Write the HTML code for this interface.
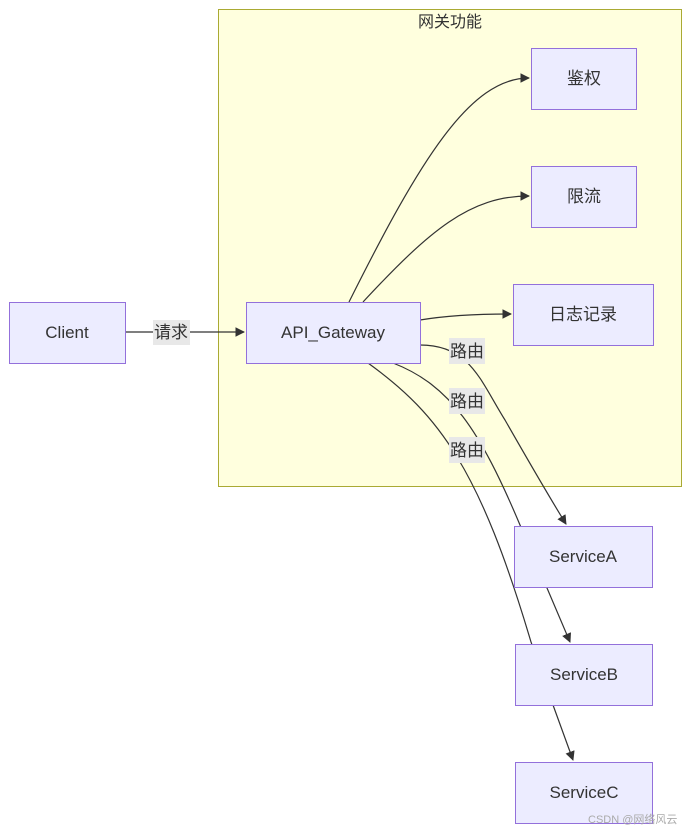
<!DOCTYPE html>
<html><head><meta charset="utf-8"><style>
html,body{margin:0;padding:0;background:#fff;}
svg{display:block;font-family:"Liberation Sans","Noto Sans CJK SC",sans-serif;}
</style></head><body>
<svg width="692" height="833" viewBox="0 0 692 833" xmlns="http://www.w3.org/2000/svg">
<defs><marker id="a" viewBox="0 0 10 10" refX="9" refY="5" markerWidth="8" markerHeight="8" orient="auto"><path d="M0,0L10,5L0,10z" fill="#333"/></marker></defs>
<rect x="218.5" y="9.5" width="463" height="477" fill="#ffffde" stroke="#aaaa33"/>
<text x="450" y="27" font-size="16" fill="#333" text-anchor="middle">网关功能</text>
<g fill="none" stroke="#333" stroke-width="1.2">
<path d="M125,332 L244,332" marker-end="url(#a)"/>
<path d="M349,302 C420,160 470,78 529,78" marker-end="url(#a)"/>
<path d="M363,302 C430,230 470,196 529,196" marker-end="url(#a)"/>
<path d="M420,320 C450,315 480,314 511,314" marker-end="url(#a)"/>
<path d="M420,345 C470,345 480,380 505,420 C525,455 545,490 566,524" marker-end="url(#a)"/>
<path d="M393,363 C450,385 480,430 520,525 L547,588 L570,642" marker-end="url(#a)"/>
<path d="M368,363 C440,415 480,470 531,642 L553,705 L573,760" marker-end="url(#a)"/>
</g>
<g font-size="17" fill="#333" text-anchor="middle">
<rect x="153" y="320" width="37" height="25" fill="#e8e8e8"/><text x="171" y="338">请求</text>
<rect x="449" y="338" width="36" height="26" fill="#e8e8e8"/><text x="467" y="357">路由</text>
<rect x="449" y="388" width="36" height="26" fill="#e8e8e8"/><text x="467" y="407">路由</text>
<rect x="449" y="437" width="36" height="26" fill="#e8e8e8"/><text x="467" y="456">路由</text>
</g>
<g fill="#ececff" stroke="#9370db" stroke-width="1">
<rect x="9.5" y="302.5" width="116" height="61"/>
<rect x="246.5" y="302.5" width="174" height="61"/>
<rect x="531.5" y="48.5" width="105" height="61"/>
<rect x="531.5" y="166.5" width="105" height="61"/>
<rect x="513.5" y="284.5" width="140" height="61"/>
<rect x="514.5" y="526.5" width="138" height="61"/>
<rect x="515.5" y="644.5" width="137" height="61"/>
<rect x="515.5" y="762.5" width="137" height="61"/>
</g>
<g font-size="17" fill="#333" text-anchor="middle">
<text x="67" y="338">Client</text>
<text x="333" y="338">API_Gateway</text>
<text x="584" y="84">鉴权</text>
<text x="584" y="202">限流</text>
<text x="583" y="320">日志记录</text>
<text x="583" y="562">ServiceA</text>
<text x="584" y="680">ServiceB</text>
<text x="584" y="798">ServiceC</text>
</g>
<text x="588" y="823" font-size="11" fill="#aaa">CSDN @网络风云</text>
</svg>
</body></html>
